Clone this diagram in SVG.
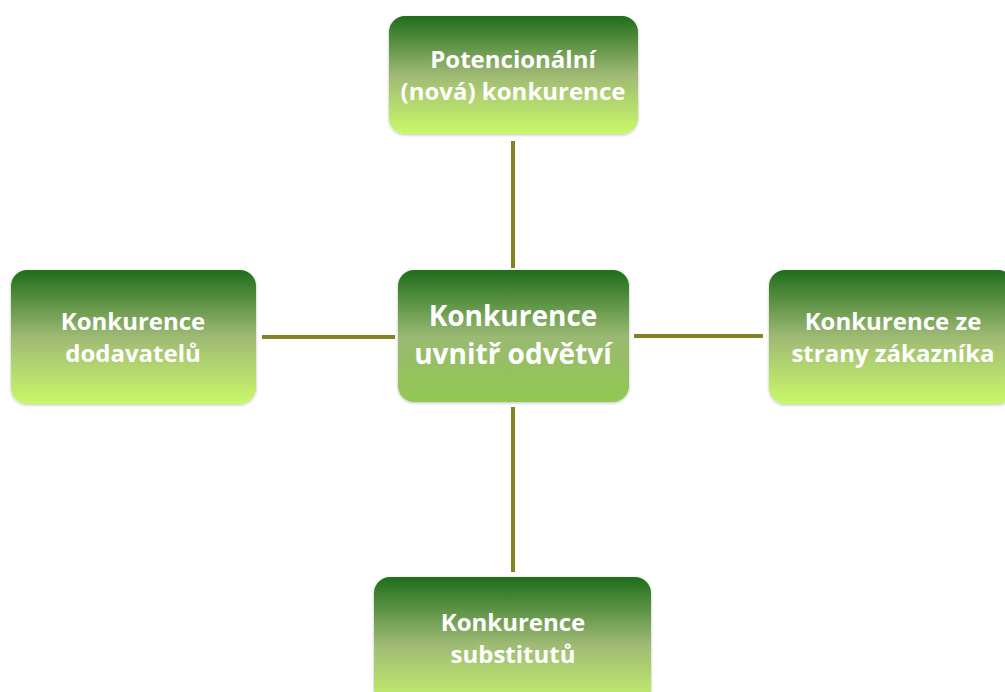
<svg xmlns="http://www.w3.org/2000/svg" width="1005" height="692" viewBox="0 0 1005 692">
<defs>
<linearGradient id="g" x1="0" y1="0" x2="0" y2="1">
<stop offset="0" stop-color="#1f6d1a"/>
<stop offset="0.5" stop-color="#9fba74"/>
<stop offset="1" stop-color="#c9f86a"/>
</linearGradient>
<linearGradient id="gc" x1="0" y1="0" x2="0" y2="1">
<stop offset="0" stop-color="#1f6d1a"/>
<stop offset="0.5" stop-color="#9ab972"/>
<stop offset="1" stop-color="#92c852"/>
</linearGradient>
<filter id="sh" x="-10%" y="-10%" width="120%" height="120%">
<feDropShadow dx="0" dy="1" stdDeviation="1.5" flood-color="#000" flood-opacity="0.25"/>
</filter>
</defs>
<style>
.box{fill:url(#g);filter:url(#sh)}
.t{font-family:"Open Sans","Liberation Sans",sans-serif;font-weight:700;fill:#fff;text-anchor:middle}
.c{stroke:#838321;stroke-width:4;fill:none}
</style>
<g id="connectors">
<line class="c" x1="513" y1="141" x2="513" y2="268"/>
<line class="c" x1="262" y1="337" x2="395" y2="337"/>
<line class="c" x1="634" y1="336" x2="763" y2="336"/>
<line class="c" x1="513" y1="407" x2="513" y2="572"/>
</g>
<g id="top">
<rect class="box" x="389" y="16" width="249" height="118" rx="16"/>
<text class="t" font-size="24" x="513" y="68">Potencionální</text>
<text class="t" font-size="24" x="513" y="100">(nová) konkurence</text>
</g>
<g id="center">
<rect class="box" style="fill:url(#gc)" x="398" y="270" width="231" height="132" rx="16"/>
<text class="t" font-size="28" x="513" y="326">Konkurence</text>
<text class="t" font-size="28" x="513" y="364">uvnitř odvětví</text>
</g>
<g id="left">
<rect class="box" x="11" y="270" width="245" height="134" rx="16"/>
<text class="t" font-size="24" x="133" y="330">Konkurence</text>
<text class="t" font-size="24" x="133" y="362">dodavatelů</text>
</g>
<g id="right">
<rect class="box" x="769" y="270" width="245" height="134" rx="16"/>
<text class="t" font-size="24" x="893" y="330">Konkurence ze</text>
<text class="t" font-size="24" x="893" y="362">strany zákazníka</text>
</g>
<g id="bottom">
<rect class="box" x="374" y="577" width="277" height="135" rx="16"/>
<text class="t" font-size="24" x="513" y="631">Konkurence</text>
<text class="t" font-size="24" x="513" y="663">substitutů</text>
</g>
</svg>
